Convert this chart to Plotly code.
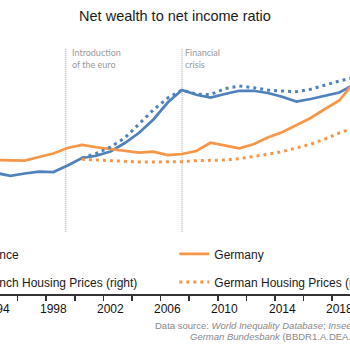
import plotly.graph_objects as go

years = list(range(1994, 2020))
france = [3.48, 3.37, 3.46, 3.53, 3.52, 3.78, 4.08, 4.17, 4.34, 4.68, 5.09, 5.62, 6.30,
          6.80, 6.61, 6.50, 6.64, 6.77, 6.77, 6.68, 6.53, 6.34, 6.44, 6.56, 6.70, 7.00]
germany = [4.00, 3.98, 3.98, 4.12, 4.26, 4.48, 4.60, 4.51, 4.44, 4.37, 4.30, 4.33, 4.20,
           4.24, 4.36, 4.69, 4.57, 4.47, 4.63, 4.90, 5.11, 5.40, 5.68, 6.04, 6.38, 7.08]

hp_years = list(range(2000, 2020))
fr_housing = [100.0, 106.8, 116.5, 130.2, 151.0, 172.3, 190.0, 202.0, 195.7, 195.3,
              203.9, 208.0, 205.5, 202.0, 200.5, 199.5, 203.2, 209.5, 215.5, 220.8]
de_housing = [98.0, 97.0, 95.5, 94.5, 94.0, 94.0, 94.0, 94.5, 96.0, 96.5,
              97.0, 99.0, 102.0, 105.5, 109.5, 114.7, 120.7, 128.5, 137.5, 145.0]

tick_years = [1994, 1998, 2002, 2006, 2010, 2014, 2018]
events = [(1998.87, "Introduction<br>of the euro", 4), (2007.0, "Financial<br>crisis", 1)]

X_RANGE = [1994.27, 2018.75]
BLUE = "#4F81BD"
ORANGE = "#F79646"
DOTS = "3px,4px"
TICK_FONT = dict(family="Liberation Sans", size=12, color="#111111")
TICK_LABEL_Y = -(309 - 294) / 254


def to_paper(xv):
    return (xv - X_RANGE[0]) / (X_RANGE[1] - X_RANGE[0])


fig = go.Figure()
fig.add_trace(go.Scatter(x=years, y=france, name="France", mode="lines",
                         line=dict(color=BLUE, width=2.75), legend="legend", legendgroup="a"))
fig.add_trace(go.Scatter(x=hp_years, y=fr_housing, name="French Housing Prices (right)", mode="lines",
                         line=dict(color=BLUE, width=3, dash=DOTS), yaxis="y2",
                         legend="legend", legendgroup="b"))
fig.add_trace(go.Scatter(x=years, y=germany, name="Germany", mode="lines",
                         line=dict(color=ORANGE, width=2.75), legend="legend2", legendgroup="c"))
fig.add_trace(go.Scatter(x=hp_years, y=de_housing, name="German Housing Prices (right)", mode="lines",
                         line=dict(color=ORANGE, width=3, dash=DOTS), yaxis="y2",
                         legend="legend2", legendgroup="d"))

for xv, label, shift in events:
    fig.add_shape(type="line", xref="paper", yref="paper", x0=to_paper(xv), x1=to_paper(xv),
                  y0=0.245, y1=0.97,
                  line=dict(color="#A0A0A0", width=1, dash="1px,1px"), layer="below")
    fig.add_annotation(x=to_paper(xv), xref="paper", y=0.927, yref="paper", text=label,
                       showarrow=False, xanchor="left", yanchor="middle", align="left",
                       xshift=shift, font=dict(family="Lato", size=9, color="#9A9A9A"))

# year labels centred under every fourth category (some fall partly outside the window)
for t in tick_years:
    fig.add_annotation(x=to_paper(t), xref="paper", y=TICK_LABEL_Y, yref="paper",
                       text=str(t), showarrow=False, xanchor="center", yanchor="middle",
                       font=TICK_FONT)

fig.add_annotation(x=0.4363, xref="paper", y=-0.1248, yref="paper", showarrow=False,
                   xanchor="left", yanchor="middle", align="left",
                   text="Data source: <i>World Inequality Database</i>; <i>Insee</i>",
                   font=dict(family="Liberation Sans", size=9.5, color="#888888"))
fig.add_annotation(x=0.538, xref="paper", y=-0.168, yref="paper", showarrow=False,
                   xanchor="left", yanchor="middle", align="left",
                   text="<i>German Bundesbank</i> (BBDR1.A.DEA.N",
                   font=dict(family="Liberation Sans", size=9.5, color="#888888"))

legend_common = dict(orientation="v", xanchor="left", yanchor="top", bgcolor="rgba(0,0,0,0)",
                     font=dict(family="Liberation Sans", size=12, color="#1a1a1a"),
                     tracegroupgap=9, itemwidth=30, traceorder="grouped")

fig.update_layout(
    template="none",
    width=350, height=350,
    hovermode=False,
    margin=dict(l=0, r=0, t=40, b=56, autoexpand=False),
    paper_bgcolor="white", plot_bgcolor="white",
    title=dict(text="Net wealth to net income ratio", x=0.5, xanchor="center",
               y=0.954, yanchor="middle",
               font=dict(family="Liberation Sans", size=14.5, color="#1a1a1a")),
    showlegend=True,
    legend=dict(x=-0.1677, y=0.215, **legend_common),
    legend2=dict(x=0.498, y=0.215, **legend_common),
    xaxis=dict(range=X_RANGE, showgrid=False, zeroline=False, automargin=False,
               showline=True, linecolor="#333333", linewidth=1.5,
               showticklabels=False, tickmode="array", tickvals=tick_years,
               ticks="",
               minor=dict(tick0=1993.5, dtick=2, ticks="outside", ticklen=5,
                          tickcolor="#333333", tickwidth=1.5, showgrid=False)),
    yaxis=dict(range=[-1.36, 8.8], visible=False),
    yaxis2=dict(range=[-104, 277], visible=False, overlaying="y", side="right"),
)

fig.write_html("out.html", config={"staticPlot": True, "displayModeBar": False})
